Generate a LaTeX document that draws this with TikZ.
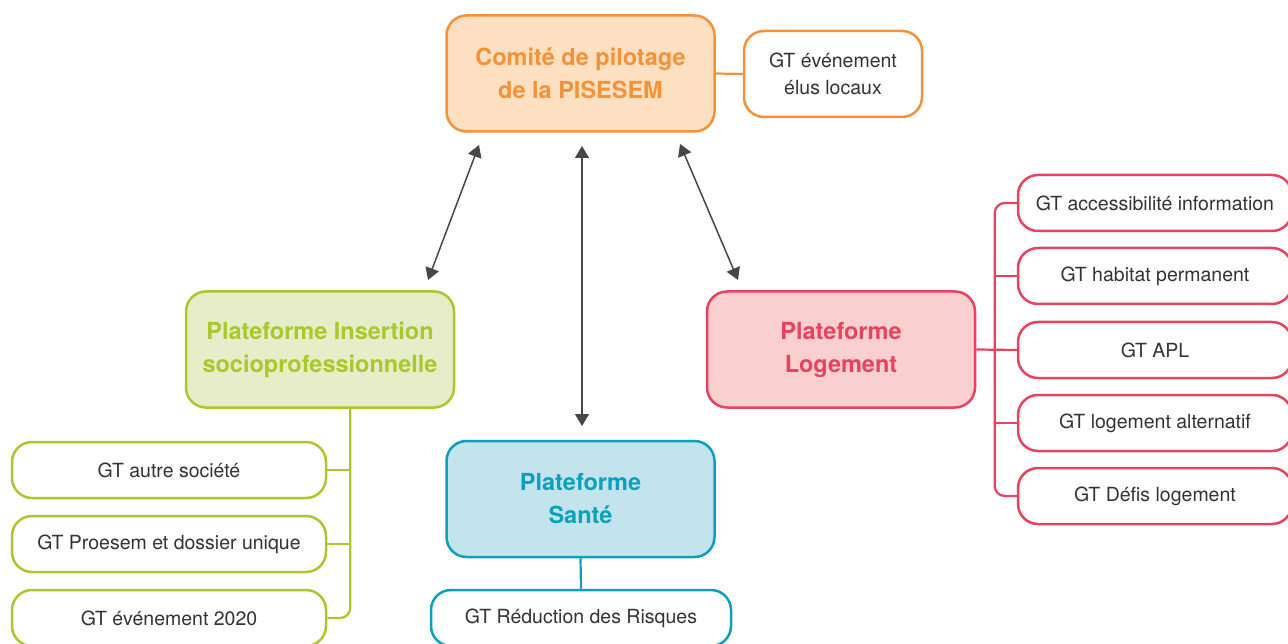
\documentclass[tikz,border=0pt]{standalone}
\usepackage{fontspec}
\setmainfont{TeX Gyre Heros}
\usetikzlibrary{arrows.meta}
\definecolor{orangeB}{HTML}{F39237}
\definecolor{orangeF}{HTML}{FDDFC2}
\definecolor{greenB}{HTML}{A8C82B}
\definecolor{greenF}{HTML}{E6EDC8}
\definecolor{blueB}{HTML}{0AA1BC}
\definecolor{blueF}{HTML}{C4E4ED}
\definecolor{redB}{HTML}{E8435E}
\definecolor{redF}{HTML}{F9CFD0}
\definecolor{txtgray}{HTML}{333333}
\definecolor{arrgray}{HTML}{474747}
\begin{document}
\begin{tikzpicture}[x=1pt,y=-1pt,
  mainbox/.style={draw, line width=2.5pt, rounded corners=20pt, minimum width=268pt, minimum height=116pt, align=center, inner sep=0pt, font=\fontsize{23.5}{33}\selectfont\bfseries},
  gtbox/.style={draw, line width=2.5pt, rounded corners=20pt, fill=white, minimum height=56pt, align=center, inner sep=0pt, text=txtgray, font=\fontsize{19.5}{27}\selectfont},
  conn/.style={line width=2.2pt},
  biarrow/.style={line width=1.5pt, draw=arrgray, {Triangle[length=12pt,width=14pt]}-{Triangle[length=12pt,width=14pt]}}
]
\useasboundingbox (0,0) rectangle (1288,644);
\clip (0,0) rectangle (1288,644);

% main boxes
\node[mainbox, draw=orangeB, fill=orangeF, text=orangeB] (comite) at (580.5,73.5) {Comité de pilotage\\de la PISESEM};
\node[mainbox, draw=greenB, fill=greenF, text=greenB] (ins) at (320,349.5) {Plateforme Insertion\\socioprofessionnelle};
\node[mainbox, draw=blueB, fill=blueF, text=blueB] (sante) at (580.5,499) {Plateforme\\Santé};
\node[mainbox, draw=redB, fill=redF, text=redB] (log) at (841,349.5) {Plateforme\\Logement};

% GT boxes
\node[gtbox, draw=orangeB, minimum width=178pt, minimum height=86pt] (elus) at (833,74) {GT événement\\élus locaux};

\node[gtbox, draw=greenB, minimum width=314pt] (g1) at (169,470) {GT autre société};
\node[gtbox, draw=greenB, minimum width=314pt] (g2) at (169,544) {GT Proesem et dossier unique};
\node[gtbox, draw=greenB, minimum width=314pt] (g3) at (169,618) {GT événement 2020};

\node[gtbox, draw=blueB, minimum width=300pt] (b1) at (581,618) {GT Réduction des Risques};

\node[gtbox, draw=redB, minimum width=274pt] (r1) at (1155,203) {GT accessibilité information};
\node[gtbox, draw=redB, minimum width=274pt] (r2) at (1155,276) {GT habitat permanent};
\node[gtbox, draw=redB, minimum width=274pt] (r3) at (1155,350) {GT APL};
\node[gtbox, draw=redB, minimum width=274pt] (r4) at (1155,423) {GT logement alternatif};
\node[gtbox, draw=redB, minimum width=274pt] (r5) at (1155,496) {GT Défis logement};

% connectors
\draw[conn, orangeB] (comite.east) -- (elus.west);
\draw[conn, blueB] (sante.south) -- (b1.north);

\draw[conn, greenB, rounded corners=10pt] ([xshift=23pt]g3.east |- ins.south) -- ([xshift=23pt]g3.east) -- (g3.east);
\draw[conn, greenB] (g1.east) -- ++(23,0);
\draw[conn, greenB] (g2.east) -- ++(23,0);

\draw[conn, redB] (log.east) -- (r3.west);
\draw[conn, redB, rounded corners=10pt] (r1.west) -- ([xshift=-22pt]r1.west) -- ([xshift=-22pt]r5.west) -- (r5.west);
\draw[conn, redB] (r2.west) -- ++(-22,0);
\draw[conn, redB] (r4.west) -- ++(-22,0);

% arrows
\coordinate (a1s) at (479,145);
\coordinate (a1e) at (428,280);
\coordinate (a2s) at (582,146);
\coordinate (a2e) at (582,426);
\coordinate (a3s) at (680,144);
\coordinate (a3e) at (738,280);
\draw[biarrow] (a1s) -- (a1e);
\draw[biarrow] (a2s) -- (a2e);
\draw[biarrow] (a3s) -- (a3e);
\end{tikzpicture}
\end{document}
